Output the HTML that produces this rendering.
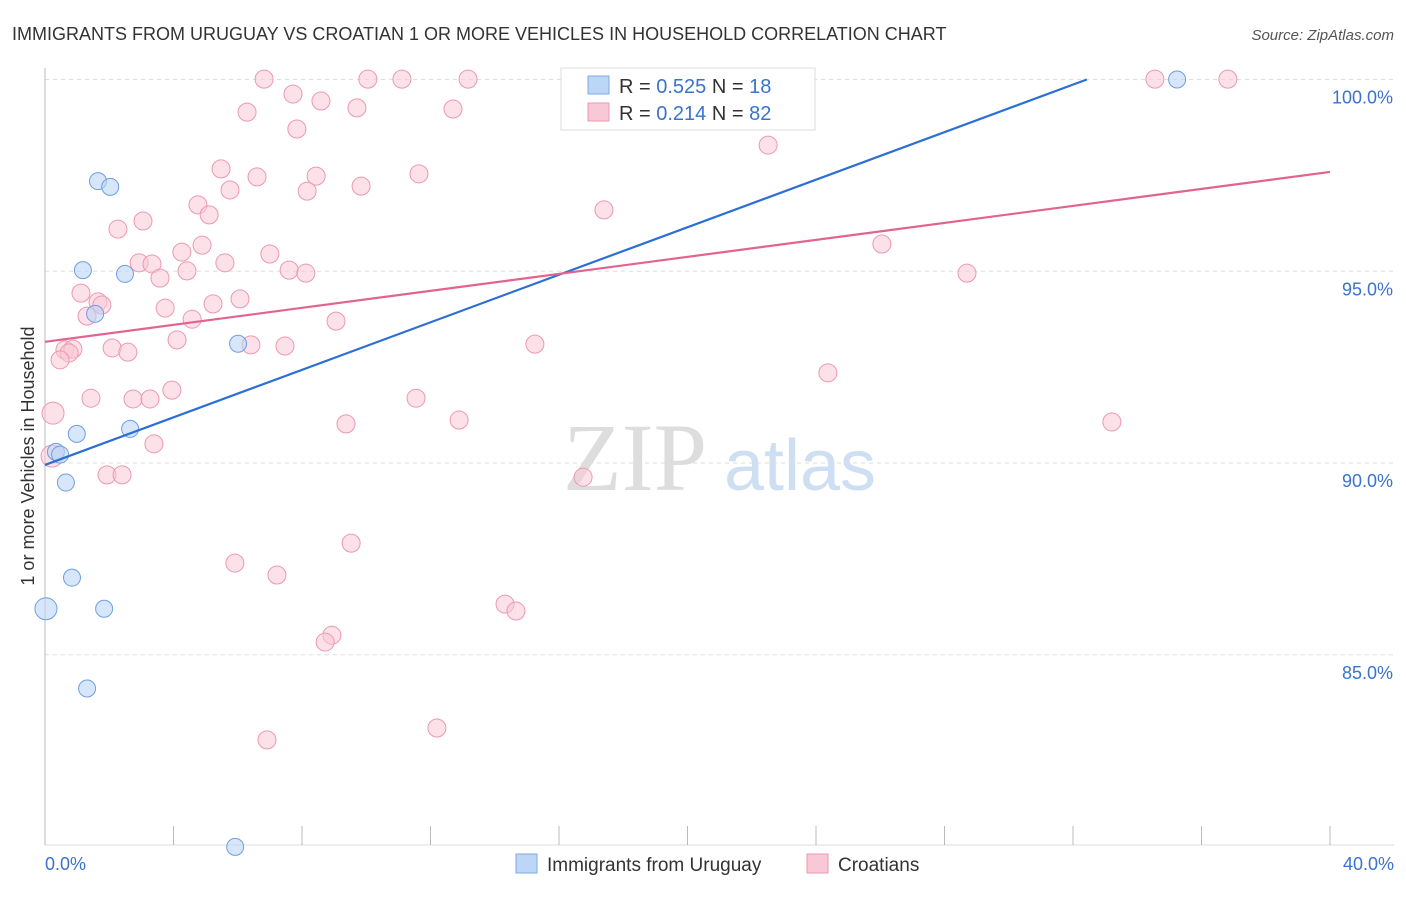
<!DOCTYPE html>
<html><head><meta charset="utf-8"><style>
body{margin:0;background:#fff;font-family:"Liberation Sans",sans-serif;}
</style></head><body>
<svg id="chart" width="1406" height="892" xmlns="http://www.w3.org/2000/svg" font-family="Liberation Sans, sans-serif">
<text x="12" y="40" font-size="18" fill="#333">IMMIGRANTS FROM URUGUAY VS CROATIAN 1 OR MORE VEHICLES IN HOUSEHOLD CORRELATION CHART</text>
<text x="1394" y="40" font-size="15" fill="#555" text-anchor="end" font-style="italic">Source: ZipAtlas.com</text>
<text transform="translate(34,456) rotate(-90)" font-size="18" fill="#333" text-anchor="middle">1 or more Vehicles in Household</text>
<g><text x="635" y="490" font-size="96" fill="#ddd" text-anchor="middle" font-family="Liberation Serif, serif">ZIP</text><text x="800" y="490" font-size="72" fill="#cfdff3" text-anchor="middle">atlas</text></g>
<g id="grid"></g><g id="axes"></g><g id="pts"></g><g id="lines"></g>
<g>
<rect x="561" y="68" width="254" height="62" fill="#fff" stroke="#ddd"/>
<rect x="588" y="76" width="21" height="18" fill="#bcd6f7" stroke="#7fa9e3"/>
<text x="619" y="93" font-size="20" fill="#333">R = <tspan fill="#3a73cc">0.525</tspan>   N = <tspan fill="#3a73cc">18</tspan></text>
<rect x="588" y="103" width="21" height="18" fill="#f9c8d6" stroke="#ec98b2"/>
<text x="619" y="120" font-size="20" fill="#333">R =  <tspan fill="#3a73cc">0.214</tspan>   N = <tspan fill="#3a73cc">82</tspan></text>
</g>
<g>
<rect x="516" y="854" width="21" height="19" fill="#bcd6f7" stroke="#7fa9e3"/>
<text x="547" y="871" font-size="19" fill="#333">Immigrants from Uruguay</text>
<rect x="807" y="854" width="21" height="19" fill="#f9c8d6" stroke="#ec98b2"/>
<text x="838" y="871" font-size="19" fill="#333">Croatians</text>
</g>
</svg>
<script>
const yTicks=[100,95,90,85];
const xTickLabels=["0.0%","40.0%"];
const blueX=[1.65,2.03,1.18,2.49,1.56,6.01,2.65,0.99,0.34,0.47,0.65,0.84,1.84,0.03,1.31,5.92,23.56,35.24];
const blueY=[97.35,97.2,95.03,94.93,93.89,93.11,90.89,90.76,90.29,90.22,89.49,87.01,86.2,86.2,84.12,79.99,100,100];
const pinkPx=[[264,79],[368,79],[402,79],[468,79],[624,79],[760,79],[1155,79],[1228,79],[293,94],[321,101],[247,112],[357,108],[453,109],[297,129],[768,145],[221,169],[257,177],[316,176],[419,174],[230,190],[307,191],[361,186],[198,205],[209,215],[604,210],[143,221],[118,229],[182,252],[202,245],[270,254],[882,244],[139,263],[152,264],[225,263],[187,271],[160,278],[289,270],[306,273],[967,273],[81,293],[98,302],[102,305],[240,299],[213,304],[165,308],[192,319],[87,316],[336,321],[177,340],[251,345],[285,346],[535,344],[65,350],[73,349],[69,353],[112,348],[128,352],[60,360],[828,373],[172,390],[91,398],[133,399],[416,398],[346,424],[459,420],[1112,422],[154,444],[53,413],[52,456],[107,475],[122,475],[583,477],[351,543],[235,563],[277,575],[505,604],[516,611],[332,635],[325,642],[267,740],[437,728],[150,399]];
const pinkX=pinkPx.map(p=>+((p[0]-45)/32.125).toFixed(2));
const pinkY=pinkPx.map(p=>+(100-(p[1]-79.5)/38.35).toFixed(2));
const blueLine=[[0,89.95],[32.43,100]];
const pinkLine=[[0,93.16],[40,97.59]];
const X=v=>45+v*32.125, Y=v=>79.5+(100-v)*38.35;
const NS="http://www.w3.org/2000/svg";
function mk(t,a,p){const e=document.createElementNS(NS,t);for(const k in a)e.setAttribute(k,a[k]);p.appendChild(e);return e;}
const grid=document.getElementById('grid'),axes=document.getElementById('axes'),pts=document.getElementById('pts'),lines=document.getElementById('lines');
yTicks.forEach(v=>{
 const l=mk('line',{x1:45,x2:1394,y1:Y(v),y2:Y(v),stroke:'#ddd','stroke-dasharray':'4,4'},grid);
 
 
 const t=mk('text',{x:1393,y:Y(v)+24,'font-size':18,fill:'#3a73cc','text-anchor':'end'},grid);
 t.textContent=v.toFixed(1)+'%';
 
 
});
const ya=mk('line',{x1:45,x2:45,y1:68,y2:845,stroke:'#bbb'},axes);


const xa=mk('line',{x1:45,x2:1394,y1:845,y2:845,stroke:'#ddd'},axes);


for(let i=0;i<=10;i++){const tk=mk('line',{x1:X(i*4),x2:X(i*4),y1:826,y2:845,stroke:'#bbb'},axes);
 
 }
[[0,'start',45],[1,'end',1394]].forEach(([i,a,x])=>{const t=mk('text',{x:x,y:870,'font-size':18,fill:'#3a73cc','text-anchor':a},axes);t.textContent=xTickLabels[i];
 
 });
pinkX.forEach((x,i)=>{const big=(i==67||i==68);const c=mk('circle',{cx:X(x),cy:Y(pinkY[i]),r:big?11:9,fill:'#f9c8d6','fill-opacity':0.55,stroke:'#ec98b2','stroke-width':1},pts);
 
 });
blueX.forEach((x,i)=>{const c=mk('circle',{cx:X(x),cy:Y(blueY[i]),r:i==13?11:8.5,fill:'#bcd6f7','fill-opacity':0.6,stroke:'#6e9fe0','stroke-width':1},pts);
 
 });
const bl=mk('line',{x1:X(blueLine[0][0]),y1:Y(blueLine[0][1]),x2:X(blueLine[1][0]),y2:Y(blueLine[1][1]),stroke:'#2b6fd6','stroke-width':2.2},lines);


const pl=mk('line',{x1:X(pinkLine[0][0]),y1:Y(pinkLine[0][1]),x2:X(pinkLine[1][0]),y2:Y(pinkLine[1][1]),stroke:'#e2648e','stroke-width':2.2},lines);


</script>
</body></html>
